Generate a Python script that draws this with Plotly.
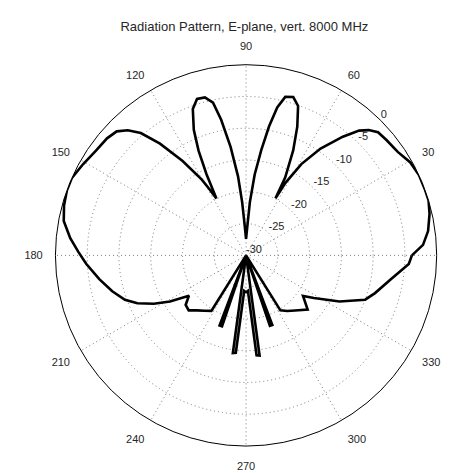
import plotly.graph_objects as go

# measured E-plane pattern (deg, dB); values at -30 sit in the centre
theta_deg = [0, 3.4, 7.6, 12.7, 16.8, 20.4, 24.9, 29.5, 34.3, 39.4, 43, 45.6, 47.8, 50.8, 55.1, 58.8, 61.5, 62.7,
             63.3, 65.8, 68.3, 70.8, 73.4, 76.1, 78.1, 79.9, 81.8, 83.9, 85.9, 87.2, 90, 92.8, 94.2, 95.8, 98.1,
             100.4, 102.2, 104.6, 107.4, 110, 112.6, 114.4, 116, 117.5, 119, 120.3, 123.9, 127.6, 130.7, 133.4,
             136.2, 139.9, 145.1, 150.8, 156, 160, 164.7, 169.3, 174.4, 178.8, 183, 189.2, 195, 200.1, 203.8,
             207.7, 211.2, 215.2, 219.4, 223.8, 228.2, 233, 238, 243, 249.3, 251.3, 256.5, 262.3, 264, 267, 270,
             273, 276, 277.7, 283.5, 288.7, 290.7, 296, 302, 306.5, 311.6, 318.7, 324.6, 327.9, 333.7, 339.6,
             343.7, 350.6, 357, 360]
gain_db = [-3.9, -2.1, -1.1, -0.4, 0, 0, 0, -0.3, -1.1, -1.4, -1.6, -2.4, -3.5, -5.9, -9.5, -13.2, -17, -19.9,
           -16.3, -11.9, -8.2, -5.1, -4.0, -4.3, -6.2, -9.4, -13.3, -17.2, -21.6, -25, -27.4, -25, -21.6, -17.5, -12.8,
           -8.3, -5.4, -4.3, -4.2, -5.5, -8.6, -11.9, -15.8, -19.9, -18, -16.2, -12.1, -7.8, -4.6, -2.9,
           -1.8, -1.4, -1.2, -0.6, 0, 0, -0.3, -0.8, -2.2, -3.6, -4.8, -6.6, -8.2, -9.7, -11.3,
           -13.6, -16, -19, -17.7, -17.5, -18.4, -19.1, -19.7, -30, -18.2, -18.2, -30, -14.5, -14.6, -24.4, -24.2,
           -24.4, -14.2, -14.1, -30, -18.3, -18.3, -30, -19.8, -19.1, -18.4, -17.1, -19, -17.4, -13.6, -10,
           -8.85, -6.9, -4.35, -3.9]

angle_ticks = [0, 30, 60, 90, 120, 150, 180, 210, 240, 270, 300, 330]
angle_labels = ["", "30", "60", "90", "120", "150", "180", "210", "240", "270", "300", "330"]
db_ticks = [-30, -25, -20, -15, -10, -5, 0]
db_labels = ["-30", "-25", "-20", "-15", "-10", "-5", "0"]

fig = go.Figure()
fig.add_trace(go.Scatterpolar(r=gain_db, theta=theta_deg, mode="lines",
                              line=dict(color="black", width=2.6), hoverinfo="skip"))
# dB ring labels, MATLAB style: horizontal text along the 45 deg spoke
fig.add_trace(go.Scatterpolar(r=db_ticks, theta=[45] * len(db_ticks), mode="text", text=db_labels,
                              textposition="top right", cliponaxis=False, hoverinfo="skip",
                              textfont=dict(size=11, color="#262626")))

grid = dict(showgrid=True, gridcolor="#7a7a7a", gridwidth=1, griddash="1px,3px")
fig.update_layout(
    width=470, height=473,
    paper_bgcolor="white",
    font=dict(family="Liberation Sans, Arial, sans-serif", size=11, color="#262626"),
    title=dict(text="Radiation Pattern, E-plane, vert. 8000 MHz", x=0.503, xanchor="center",
               y=0.962, yanchor="middle", font=dict(size=13, color="#262626")),
    margin=dict(l=0, r=0, t=0, b=0),
    showlegend=False,
    polar=dict(
        domain=dict(x=[0.100, 0.913], y=[0.074, 0.880]),
        bgcolor="white",
        angularaxis=dict(rotation=0, direction="counterclockwise", tickvals=angle_ticks, ticktext=angle_labels,
                         showline=True, linecolor="black", linewidth=1, ticks="outside", ticklen=10,
                         tickcolor="rgba(0,0,0,0)", tickfont=dict(size=11), **grid),
        radialaxis=dict(range=[-30, 0], tickvals=db_ticks, angle=45, showticklabels=False,
                        showline=False, ticks="", **grid),
    ),
)

fig.write_html("out.html")
